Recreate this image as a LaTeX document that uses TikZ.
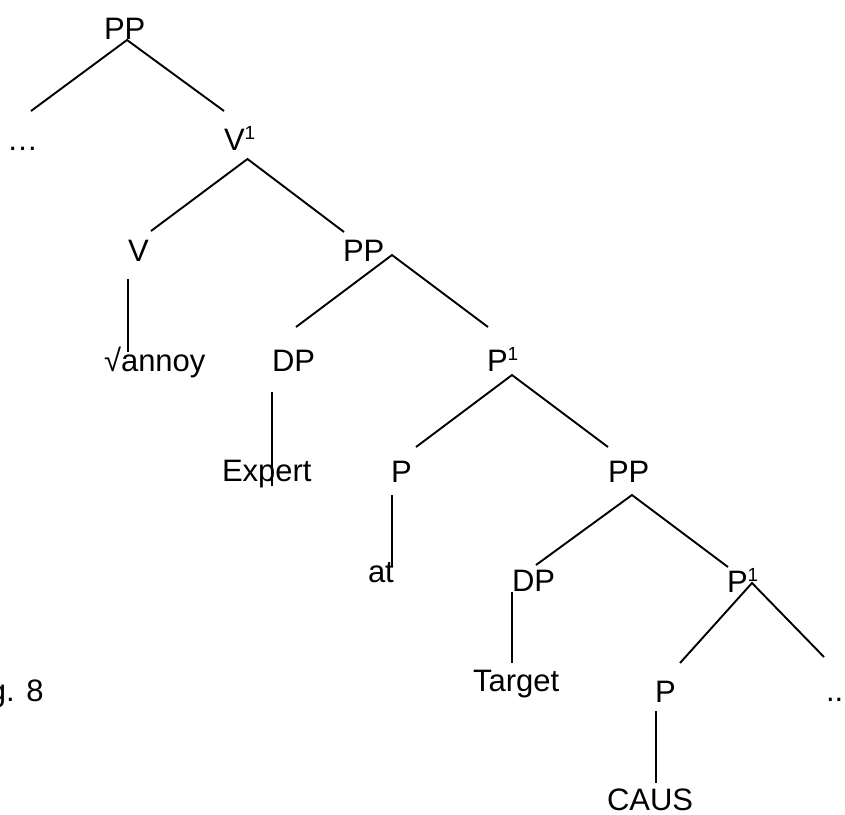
\documentclass[tikz,border=0pt]{standalone}
\usepackage{fontspec}
\setmainfont{Liberation Sans}
\newcommand\supone{\raisebox{11pt}{\fontsize{19}{19}\selectfont 1}}
\tikzset{
  lbl/.style={anchor=base west, inner sep=0pt, outer sep=0pt, font=\fontsize{31}{37}\selectfont},
  branch/.style={line width=1.9pt, line cap=butt}
}
\begin{document}
\begin{tikzpicture}[x=1pt,y=-1pt]
\useasboundingbox (0,0) rectangle (845,814);
\clip (0,0) rectangle (845,814);
% labels
\node[lbl] (pp0) at (104,39) {PP};
\node[lbl] (dotsL) at (7,150) {…};
\node[lbl] (v1) at (224,150) {V\supone};
\node[lbl] (v) at (128,261) {V};
\node[lbl] (pp2) at (343,261) {PP};
\node[lbl] (annoy) at (104,371) {√annoy};
\node[lbl] (dp1) at (272,371) {DP};
\node[lbl] (p1a) at (487,371) {P\supone};
\node[lbl] (expert) at (222,481) {Expert};
\node[lbl] (p2) at (391,482) {P};
\node[lbl] (pp3) at (608,482) {PP};
\node[lbl] (at) at (368,582) {at};
\node[lbl] (dp2) at (512,591) {DP};
\node[lbl] (p1b) at (727,592) {P\supone};
\node[lbl] (target) at (473,691) {Target};
\node[lbl] (p3) at (655,702) {P};
\node[lbl] (dotsR) at (826,701) {..};
\node[lbl] (fig) at (-11,701) {g. 8};
\node[lbl] (caus) at (607,810.5) {CAUS};
% connector ends
\coordinate (pp0-b) at (127,40);
\coordinate (dotsL-t) at (31,111);
\coordinate (v1-t) at (224,111);
\coordinate (v1-b) at (247.5,159);
\coordinate (v-t) at (151,231);
\coordinate (pp2-t) at (344,232);
\coordinate (v-b) at (128,279);
\coordinate (annoy-t) at (128,352);
\coordinate (pp2-b) at (392,255);
\coordinate (dp1-t) at (296,327);
\coordinate (p1a-t) at (488,327);
\coordinate (dp1-b) at (272,392);
\coordinate (expert-t) at (272,486);
\coordinate (p1a-b) at (512,375);
\coordinate (p2-t) at (416,447);
\coordinate (pp3-t) at (608,447);
\coordinate (p2-b) at (392,495);
\coordinate (at-t) at (392,567);
\coordinate (pp3-b) at (632,495);
\coordinate (dp2-t) at (536,565);
\coordinate (p1b-t) at (728,567);
\coordinate (dp2-b) at (512,592);
\coordinate (target-t) at (512,663);
\coordinate (p1b-b) at (752,583);
\coordinate (p3-t) at (680,663);
\coordinate (dotsR-t) at (824,657);
\coordinate (p3-b) at (656,711);
\coordinate (caus-t) at (656,783);
% connectors
\draw[branch] (dotsL-t) -- (pp0-b) -- (v1-t);
\draw[branch] (v-t) -- (v1-b) -- (pp2-t);
\draw[branch] (v-b) -- (annoy-t);
\draw[branch] (dp1-t) -- (pp2-b) -- (p1a-t);
\draw[branch] (dp1-b) -- (expert-t);
\draw[branch] (p2-t) -- (p1a-b) -- (pp3-t);
\draw[branch] (p2-b) -- (at-t);
\draw[branch] (dp2-t) -- (pp3-b) -- (p1b-t);
\draw[branch] (dp2-b) -- (target-t);
\draw[branch] (p3-t) -- (p1b-b) -- (dotsR-t);
\draw[branch] (p3-b) -- (caus-t);
\end{tikzpicture}
\end{document}
